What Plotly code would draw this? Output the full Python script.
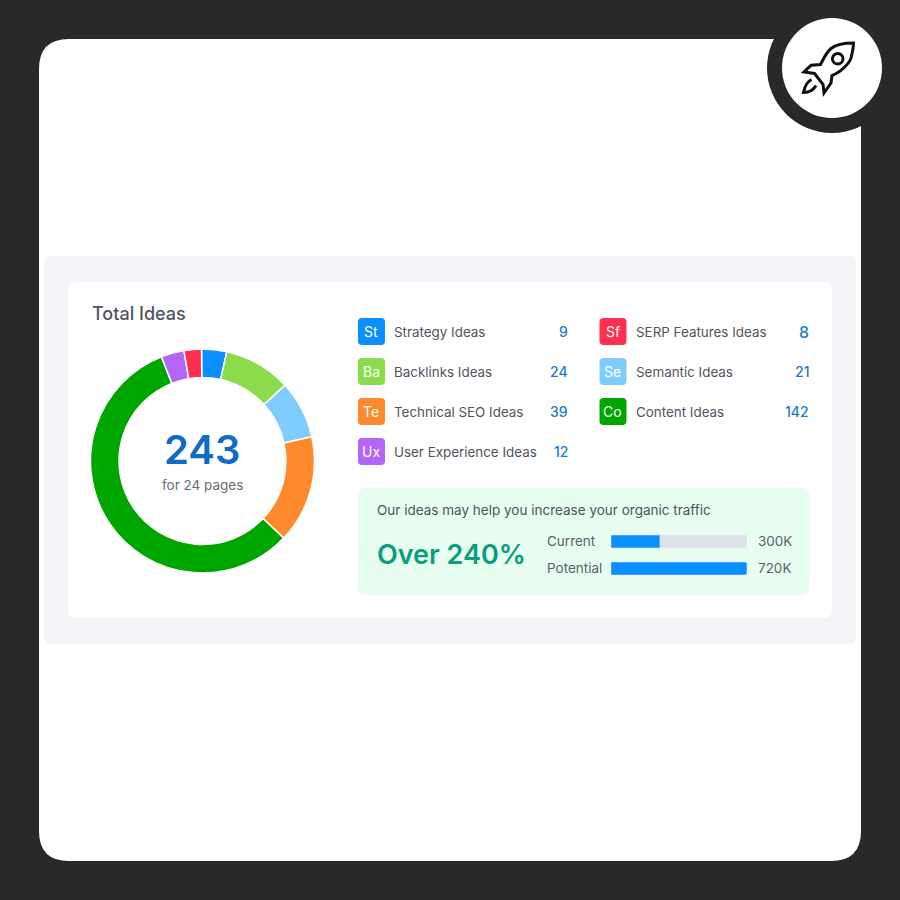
import plotly.graph_objects as go

# ---------- data ----------
legend_codes = ["St", "Ba", "Te", "Ux", "Sf", "Se", "Co"]
legend_names = ["Strategy Ideas", "Backlinks Ideas", "Technical SEO Ideas", "User Experience Ideas",
                "SERP Features Ideas", "Semantic Ideas", "Content Ideas"]
legend_values = [9, 24, 39, 12, 8, 21, 142]
legend_colors = ["#0a8fff", "#8bdc4a", "#ff8a2b", "#b366f6", "#ff2f52", "#80ccff", "#00a600"]

# slices, clockwise from 12 o'clock, sized as drawn in the picture
slice_names = ["Strategy Ideas", "Backlinks Ideas", "Semantic Ideas", "Technical SEO Ideas",
               "Content Ideas", "User Experience Ideas", "SERP Features Ideas"]
slice_values = [8.8, 23.6, 20.3, 37.8, 138.4, 8.1, 6.1]
slice_colors = ["#0a8fff", "#8bdc4a", "#80ccff", "#ff8a2b", "#00a600", "#b366f6", "#ff2f52"]

traffic_names = ["Current", "Potential"]
traffic_labels = ["300K", "720K"]
traffic_bar_lengths = [259, 720]   # as drawn
traffic_max = 720

DARK = "#292929"
GREY_TXT = "#50545e"
W = 900.0


def rrect(x0, y0, x1, y1, r):
    return (f"M{x0+r},{y0} L{x1-r},{y0} Q{x1},{y0} {x1},{y0+r} L{x1},{y1-r} Q{x1},{y1} {x1-r},{y1} "
            f"L{x0+r},{y1} Q{x0},{y1} {x0},{y1-r} L{x0},{y0+r} Q{x0},{y0} {x0+r},{y0} Z")


def fill_path(p, color):
    return dict(type="path", xref="x", yref="y", path=p, fillcolor=color, line=dict(width=0), layer="below")


def circle(cx, cy, r, fill, line=None, lw=0):
    return dict(type="circle", xref="x", yref="y", x0=cx-r, x1=cx+r, y0=cy-r, y1=cy+r,
                fillcolor=fill, line=dict(color=line or fill, width=lw), layer="above" if line else "below")


def label(x, y, text, size, color, anchor="left", weight=400):
    return dict(x=x, y=y, xref="x", yref="y", text=text, showarrow=False, xanchor=anchor, yanchor="middle",
                borderpad=0, font=dict(family="Inter", size=size, color=color, weight=weight))


shapes = [
    # card: top-right corner hidden by the dark circle
    fill_path("M69,39 L861,39 L861,831 Q861,861 831,861 L69,861 Q39,861 39,831 L39,69 Q39,39 69,39 Z", "#ffffff"),
    circle(832, 68, 65, DARK),
    circle(832, 68, 50, "#ffffff"),
    fill_path(rrect(44, 256, 856, 644, 6), "#f2f4f8"),
    fill_path(rrect(68, 282, 832, 618, 8), "#ffffff"),
    fill_path(rrect(358, 488, 809.5, 595, 8), "#e6fdf0"),
]

# rocket icon
rocket = [
    "M853.5,43 C845,43 836.5,44 831,48.5 C826.5,52 823.5,59 820.5,64.5 L811,65.3 L804,72 L814.5,73.5 "
    "L823,84.3 L824,93 L831,83 L832,75.5 C836.5,73.5 839.5,72 842.5,69 C847,65 850,62 851,58 C852.5,52 853.5,48 853.5,43 Z",
    "M811.5,79.5 C806.5,82 804.5,87 803.5,92.5 C808.5,92.5 813.5,90 816,85.5",
]
for p in rocket:
    shapes.append(dict(type="path", xref="x", yref="y", path=p, fillcolor="rgba(0,0,0,0)",
                       line=dict(color="#111111", width=3), layer="above"))
shapes.append(dict(type="circle", xref="x", yref="y", x0=832.4, x1=843, y0=53.4, y1=64,
                   fillcolor="rgba(0,0,0,0)", line=dict(color="#111111", width=3), layer="above"))

annotations = [
    label(91, 313.5, "Total Ideas", 18, GREY_TXT, weight=500),
    label(202, 449.5, "243", 40, "#0f6cc6", "center", 600),
    label(202.5, 484.5, "for 24 pages", 13.5, "#686c76", "center"),
    label(375.5, 509.5, "Our ideas may help you increase your organic traffic", 13.5, GREY_TXT),
    label(375.5, 554.5, "Over 240%", 27, "#0b9e7e", weight=600),
]

# legend rows
for i, (code, name, val, col) in enumerate(zip(legend_codes, legend_names, legend_values, legend_colors)):
    col2 = i >= 4
    row = i - 4 if col2 else i
    y = 331.5 + 40 * row
    tx = 599.5 if col2 else 358
    shapes.append(fill_path(rrect(tx, y - 13.5, tx + 27, y + 13.5, 4), col))
    annotations.append(label(tx + 13, y, code, 14, "#ffffff", "center"))
    annotations.append(label(tx + 35, y, name, 13.4, GREY_TXT))
    annotations.append(label(810 if col2 else 569, y, str(val), 16 if val == 8 else 14, "#1c7cc8", "right", 500))

# traffic rows
for i, (nm, lb) in enumerate(zip(traffic_names, traffic_labels)):
    y = 541 + 27 * i
    annotations.append(label(545.5, y, nm, 13.5, "#5d616b"))
    annotations.append(label(756.5, y, lb, 13.5, "#5d616b"))

fig = go.Figure()
fig.add_trace(go.Scatter(x=[0, 900], y=[0, 900], mode="markers", marker=dict(opacity=0), hoverinfo="skip",
                         showlegend=False))
fig.add_trace(go.Pie(labels=slice_names, values=slice_values, sort=False, direction="clockwise", rotation=359.5,
                     hole=0.745, textinfo="none", showlegend=False,
                     marker=dict(colors=slice_colors, line=dict(color="#ffffff", width=1.5)),
                     domain=dict(x=[90.5/W, 314.5/W], y=[1-573/W, 1-349/W])))
fig.add_trace(go.Bar(y=traffic_names, x=[traffic_max]*2, orientation="h", marker_color="#dfe1ea", width=0.48,
                     xaxis="x2", yaxis="y2", showlegend=False))
fig.add_trace(go.Bar(y=traffic_names, x=traffic_bar_lengths, orientation="h", marker_color="#0a8fff", width=0.48,
                     xaxis="x2", yaxis="y2", showlegend=False))

fig.update_layout(
    width=900, height=900, margin=dict(l=0, r=0, t=0, b=0), autosize=False,
    paper_bgcolor=DARK, plot_bgcolor="rgba(0,0,0,0)",
    barmode="overlay", barcornerradius=2,
    xaxis=dict(range=[0, 900], domain=[0, 1], visible=False, fixedrange=True),
    yaxis=dict(range=[900, 0], domain=[0, 1], visible=False, fixedrange=True),
    xaxis2=dict(range=[0, traffic_max], domain=[611/W, 747/W], anchor="y2", visible=False, fixedrange=True),
    yaxis2=dict(domain=[1-582/W, 1-528/W], anchor="x2", visible=False, autorange="reversed", fixedrange=True,
                type="category"),
    shapes=shapes, annotations=annotations,
)
fig.write_html("out.html", config=dict(displayModeBar=False),
               post_script="document.body.style.margin='0';document.body.style.overflow='hidden';"
                           "document.documentElement.style.overflow='hidden';")
